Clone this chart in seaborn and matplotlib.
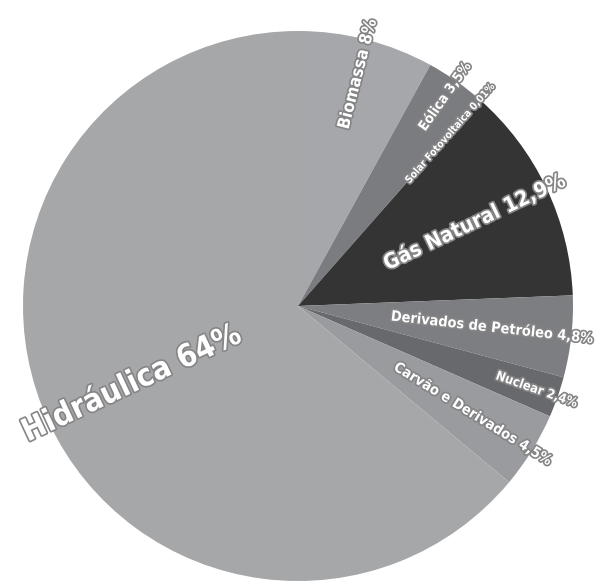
import numpy as np
import matplotlib
matplotlib.use('Agg')
import matplotlib.pyplot as plt
import matplotlib.patheffects as pe
import seaborn as sns

# Data (clockwise from 12 o'clock)
fontes = ['Biomassa', 'Eólica', 'Solar Fotovoltaica', 'Gás Natural',
          'Derivados de Petróleo', 'Nuclear', 'Carvão e Derivados', 'Hidráulica']
valores = [8, 3.5, 0.01, 12.9, 4.8, 2.4, 4.5, 64]
rotulos = ['8%', '3,5%', '0,01%', '12,9%', '4,8%', '2,4%', '4,5%', '64%']

# Styling
sns.set_theme(style='white')
plt.rcParams['font.family'] = ['Liberation Sans Narrow', 'DejaVu Sans']

cores = ['#a6a7aa', '#7b7c7f', '#6a6b6e', '#343435',
         '#7d7e81', '#68696c', '#9a9b9e', '#a6a7a9']
tamanhos = [12.2, 10, 7.4, 15.2, 10.4, 9.2, 10.4, 22.5]

W, H = 616, 583
centro = (298, 277)
raio = 275

fig = plt.figure(figsize=(W / 100, H / 100), dpi=100)
ax = fig.add_axes([0, 0, 1, 1])
wedges, _ = ax.pie(valores, colors=cores, startangle=90, counterclock=False,
                   center=centro, radius=raio, wedgeprops=dict(linewidth=0))
ax.set_xlim(0, W)
ax.set_ylim(0, H)
ax.set_aspect('equal')
ax.axis('off')

contorno = [pe.Stroke(linewidth=2.4, foreground='#858587'), pe.Normal()]

# labels run along the radius, outer end just past the rim
for w, nome, rot, fs in zip(wedges, fontes, rotulos, tamanhos):
    ang = (w.theta1 + w.theta2) / 2
    a = np.deg2rad(ang)
    texto = f'{nome} {rot}'
    if np.cos(a) >= 0:
        r = 1.075 * raio
        ha, rotacao = 'right', ang
    else:
        r = 1.10 * raio
        ha, rotacao = 'left', ang - 180
    x = centro[0] + r * np.cos(a)
    y = centro[1] + r * np.sin(a)
    ax.text(x, y, texto, rotation=rotacao, rotation_mode='anchor',
            ha=ha, va='center', fontsize=fs, fontweight='bold',
            fontstretch='condensed', color='white', path_effects=contorno)

fig.savefig('out.png', dpi=100)
